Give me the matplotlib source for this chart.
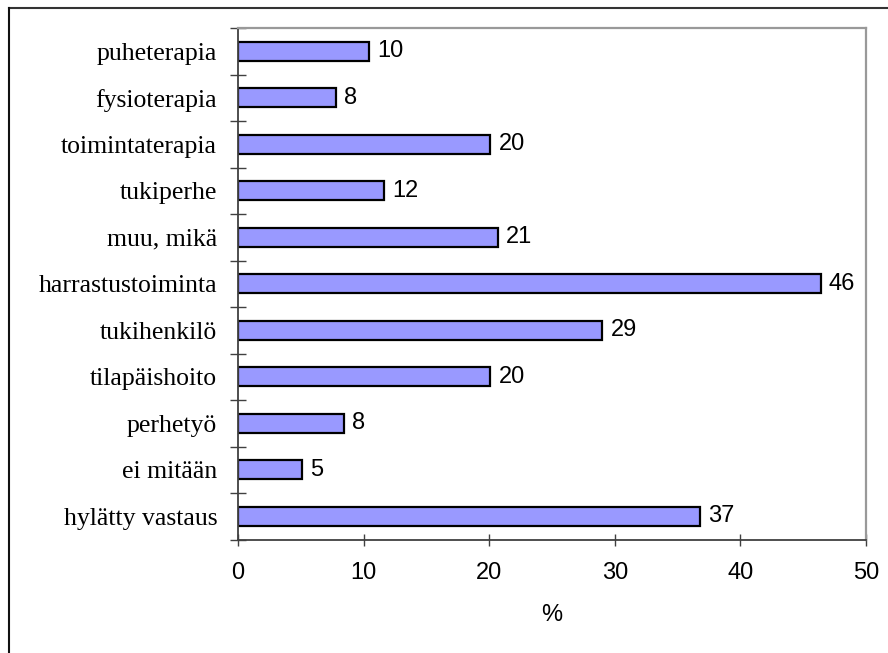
import numpy as np
import matplotlib
matplotlib.use('Agg')
import matplotlib.pyplot as plt
from matplotlib.lines import Line2D

# Palvelut, joita perhe on saanut (%)
categories = ['puheterapia', 'fysioterapia', 'toimintaterapia', 'tukiperhe',
              'muu, mikä', 'harrastustoiminta', 'tukihenkilö', 'tilapäishoito',
              'perhetyö', 'ei mitään', 'hylätty vastaus']
values = [10.4, 7.8, 20.1, 11.6, 20.7, 46.4, 29.0, 20.1, 8.4, 5.1, 36.8]
x_ticks = [0, 10, 20, 30, 40, 50]

BAR_COLOR = '#9999FF'
SERIF = ['Liberation Serif', 'DejaVu Serif']
SANS = ['Liberation Sans', 'DejaVu Sans']
NUM_SIZE = 17

fig = plt.figure(figsize=(8.88, 6.53), dpi=100)
ax = fig.add_axes([238 / 888, 1 - 539.5 / 653, 628 / 888, 511.5 / 653])

y = np.arange(len(categories))
ax.barh(y, values, height=0.4, color=BAR_COLOR, edgecolor='black', linewidth=1.6)

for yi, v in zip(y, values):
    ax.text(v + 0.65, yi, f'{v:.0f}', va='center', ha='left',
            fontsize=NUM_SIZE, family=SANS, color='black')

ax.set_xlim(0, 50)
ax.set_ylim(len(categories) - 0.5, -0.5)

# category labels at bar centres, tick marks on the category boundaries
ax.set_yticks(y)
ax.set_yticklabels(categories, family=SERIF, fontsize=18.5)
ax.set_yticks(np.arange(len(categories) + 1) - 0.5, minor=True)
ax.tick_params(axis='y', which='major', length=0, pad=15)
ax.tick_params(axis='y', which='minor', direction='inout', length=12,
               width=1, color='#404040')

ax.set_xticks(x_ticks)
ax.set_xticklabels([str(t) for t in x_ticks], family=SANS, fontsize=NUM_SIZE)
ax.tick_params(axis='x', direction='inout', length=9, width=1,
               color='#404040', pad=12)
ax.set_xlabel('%', family=SANS, fontsize=NUM_SIZE, labelpad=14)

for side in ('left', 'bottom'):
    ax.spines[side].set_color('#404040')
    ax.spines[side].set_linewidth(1.3)
for side in ('top', 'right'):
    ax.spines[side].set_color('#999999')
    ax.spines[side].set_linewidth(1.6)

# frame lines along the top and left edge of the figure
fig.add_artist(Line2D([8.5 / 888, 1], [1 - 7.5 / 653] * 2, color='#333333', lw=1.5))
fig.add_artist(Line2D([8.5 / 888] * 2, [0, 1 - 7.5 / 653], color='#111111', lw=1.5))

fig.savefig('out.png', dpi=100, facecolor='white')
